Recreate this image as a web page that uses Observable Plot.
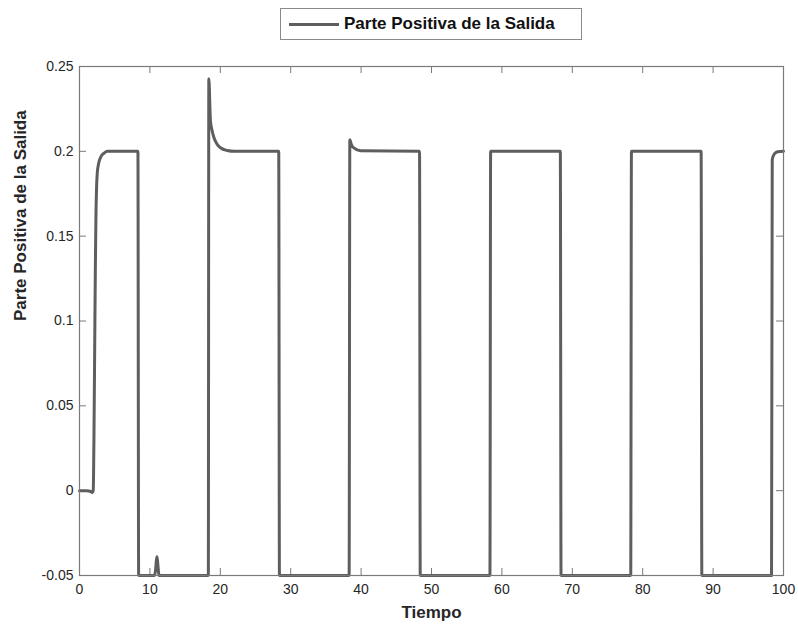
<!DOCTYPE html>
<html>
<head>
<meta charset="utf-8">
<script src="https://cdn.jsdelivr.net/npm/d3@7"></script>
<script src="https://cdn.jsdelivr.net/npm/@observablehq/plot@0.6"></script>
<style>
  html, body { margin: 0; padding: 0; background: #fff; }
  #wrap { position: relative; width: 798px; height: 630px; font-family: "Liberation Sans", Arial, sans-serif; }
  #legend {
    position: absolute; left: 280px; top: 8px; width: 300px; height: 30px;
    border: 1px solid #8a8a8a; background: #fff; box-sizing: content-box;
    display: flex; align-items: center;
  }
  #legend .swatch { width: 50px; height: 3px; background: #5e5e5e; margin-left: 8px; margin-right: 5px; }
  #legend .txt { font-weight: bold; font-size: 17px; color: #111; white-space: nowrap; }
</style>
</head>
<body>
<div id="wrap">
  <div id="chart"></div>
  <div id="legend"><div class="swatch"></div><div class="txt">Parte Positiva de la Salida</div></div>
</div>
<script>
// Simulated output (positive part), sampled at the breakpoints of the response
const tiempo = [
  0, 1.0, 1.6, 1.8, 1.95, 2.05, 2.15, 2.25, 2.33, 2.42, 2.52, 2.7, 3.0, 3.5, 4.0,
  8.3, 8.4,
  10.65, 10.8, 10.9, 11.0, 11.1, 11.2, 11.3,
  18.3, 18.37, 18.6, 18.85, 19.08, 19.5, 20.03, 20.98, 22.0,
  28.3, 28.4,
  38.3, 38.4, 38.6, 38.97, 39.9,
  48.3, 48.4,
  58.3, 58.4,
  68.3, 68.4,
  78.3, 78.4,
  88.3, 88.4,
  98.3, 98.4, 98.7, 99.2, 100
];
const salida = [
  0, 0, -0.0005, -0.0012, 0.0, 0.03, 0.08, 0.13, 0.16, 0.178, 0.187, 0.1925, 0.1965, 0.199, 0.2,
  0.2, -0.05,
  -0.05, -0.047, -0.042, -0.039, -0.042, -0.047, -0.05,
  -0.05, 0.2428, 0.218, 0.212, 0.2083, 0.2045, 0.2021, 0.2005, 0.2,
  0.2, -0.05,
  -0.05, 0.2069, 0.2042, 0.202, 0.2003,
  0.2, -0.05,
  -0.05, 0.2,
  0.2, -0.05,
  -0.05, 0.2,
  0.2, -0.05,
  -0.05, 0.195, 0.1985, 0.1998, 0.2
];
const xTicks = [0, 10, 20, 30, 40, 50, 60, 70, 80, 90, 100];
const yTicks = [-0.05, 0, 0.05, 0.1, 0.15, 0.2, 0.25];

const data = tiempo.map((t, i) => ({t, y: salida[i]}));
const axisColor = "#7a7a7a";
const labelColor = "#262626";

const chart = Plot.plot({
  width: 798,
  height: 630,
  marginTop: 66,
  marginLeft: 79,
  marginRight: 15,
  marginBottom: 55,
  style: {fontFamily: "'Liberation Sans', Arial, sans-serif", background: "#fff"},
  x: {domain: [0, 100]},
  y: {domain: [-0.05, 0.25]},
  marks: [
    Plot.axisX(xTicks, {tickSize: 0, tickPadding: 9, fontSize: 14, color: labelColor, label: null}),
    Plot.axisY(yTicks, {tickSize: 0, tickPadding: 6, fontSize: 14, color: labelColor, label: null,
      tickFormat: d => String(d)}),
    // inward tick marks on all four sides of the box
    Plot.ruleX(xTicks, {x: d => d, insetTop: 502, stroke: axisColor}),
    Plot.ruleX(xTicks, {x: d => d, insetBottom: 502, stroke: axisColor}),
    Plot.ruleY(yTicks, {y: d => d, insetRight: 697, stroke: axisColor}),
    Plot.ruleY(yTicks, {y: d => d, insetLeft: 697, stroke: axisColor}),
    Plot.line(data, {x: "t", y: "y", stroke: "#5e5e5e", strokeWidth: 3, strokeLinejoin: "round", curve: "monotone-x"}),
    Plot.frame({stroke: axisColor, strokeWidth: 1.2}),
    Plot.text(["Tiempo"], {frameAnchor: "bottom", dy: 42, fontSize: 17, fontWeight: "bold", fill: labelColor}),
    Plot.text(["Parte Positiva de la Salida"], {frameAnchor: "left", dx: -59, rotate: -90, fontSize: 17, fontWeight: "bold", fill: labelColor})
  ]
});
document.getElementById("chart").appendChild(chart);
</script>
</body>
</html>
